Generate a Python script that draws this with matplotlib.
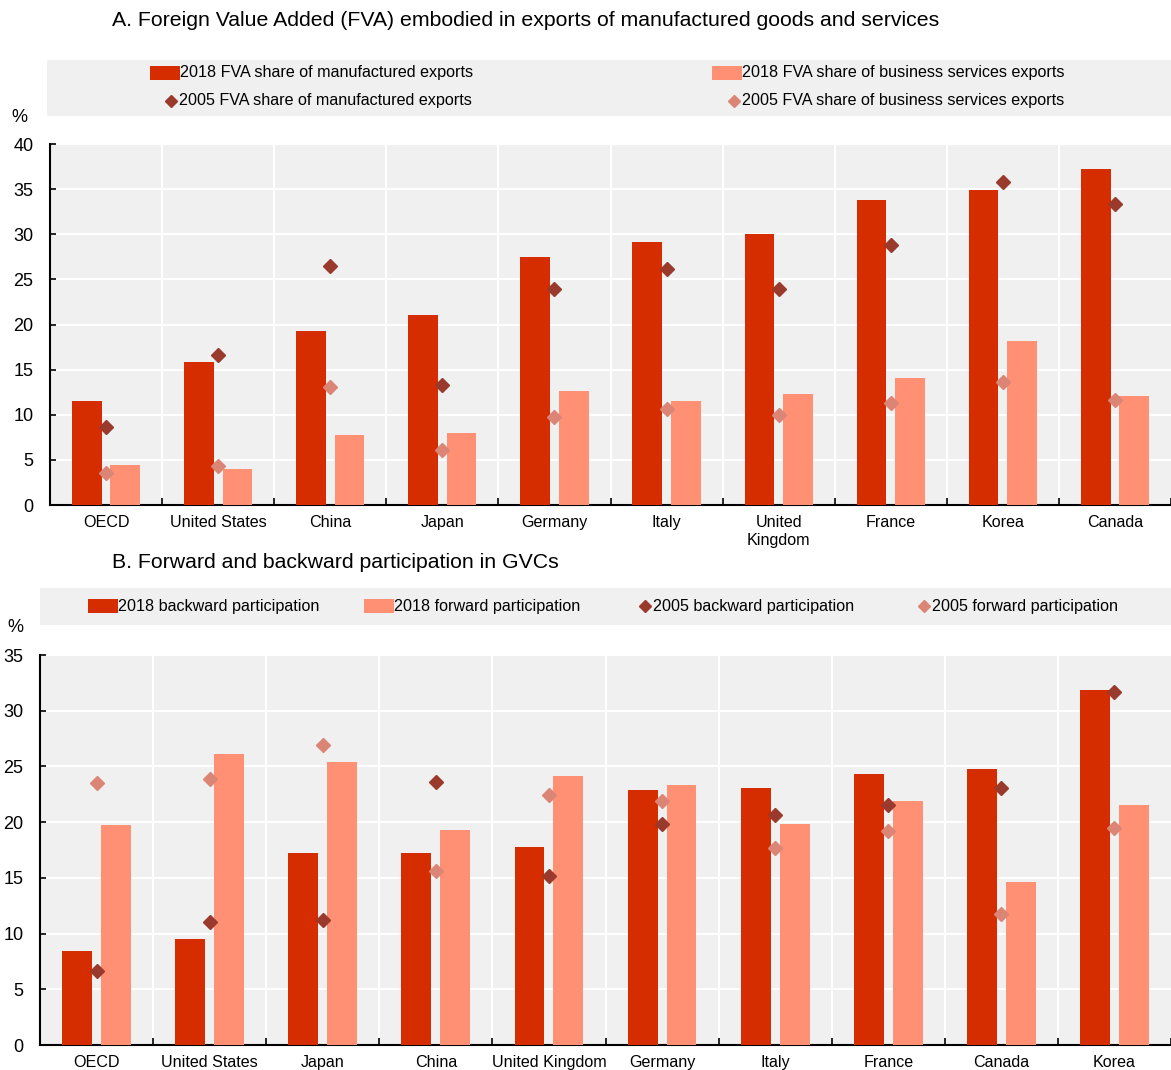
import numpy as np
import matplotlib
matplotlib.use("Agg")
import matplotlib.pyplot as plt
from matplotlib.patches import Rectangle
from matplotlib.lines import Line2D

plt.rcParams['font.family'] = ['Liberation Sans', 'DejaVu Sans']

# ---- data panel A
cats_a = ["OECD", "United States", "China", "Japan", "Germany", "Italy",
          "United\nKingdom", "France", "Korea", "Canada"]
manuf_2018 = [11.5, 15.8, 19.3, 21.0, 27.5, 29.1, 30.0, 33.8, 34.9, 37.2]
serv_2018 = [4.4, 4.0, 7.8, 8.0, 12.6, 11.5, 12.3, 14.1, 18.2, 12.1]
manuf_2005 = [8.6, 16.6, 26.5, 13.3, 23.9, 26.1, 23.9, 28.8, 35.8, 33.4]
serv_2005 = [3.5, 4.3, 13.1, 6.1, 9.8, 10.6, 10.0, 11.3, 13.6, 11.6]

# ---- data panel B
cats_b = ["OECD", "United States", "Japan", "China", "United Kingdom", "Germany",
          "Italy", "France", "Canada", "Korea"]
back_2018 = [8.4, 9.5, 17.2, 17.2, 17.8, 22.9, 23.1, 24.3, 24.8, 31.9]
fwd_2018 = [19.7, 26.1, 25.4, 19.3, 24.1, 23.3, 19.8, 21.9, 14.6, 21.5]
back_2005 = [6.6, 11.0, 11.2, 23.6, 15.2, 19.8, 20.6, 21.5, 23.1, 31.7]
fwd_2005 = [23.5, 23.9, 26.9, 15.6, 22.4, 21.9, 17.7, 19.2, 11.8, 19.5]

C_BAR1 = "#d62d00"
C_BAR2 = "#ff9073"
C_DIA1 = "#993a2d"
C_DIA2 = "#da8576"
BG = "#f0f0f0"
FS = 11.6

W, H = 1171, 1070
fig = plt.figure(figsize=(W / 100, H / 100), dpi=100)


def px(x, y):
    return x / W, 1 - y / H


def panel(rect, cats, b1, b2, d1, d2, ymax):
    ax = fig.add_axes(rect)
    x = np.arange(len(cats))
    ax.set_facecolor(BG)
    ax.bar(x - 0.172, b1, width=0.265, color=C_BAR1, zorder=3)
    ax.bar(x + 0.172, b2, width=0.265, color=C_BAR2, zorder=3)
    ax.plot(x, d1, linestyle="none", marker="D", markersize=7, color=C_DIA1, zorder=4)
    ax.plot(x, d2, linestyle="none", marker="D", markersize=7, color=C_DIA2, zorder=4)
    ax.set_xlim(-0.5, len(cats) - 0.5)
    ax.set_ylim(0, ymax)
    ax.set_yticks(np.arange(0, ymax + 1, 5))
    ax.set_xticks(x)
    ax.set_xticklabels(cats, fontsize=FS, linespacing=1.3)
    ax.set_xticks(np.arange(len(cats)) + 0.5, minor=True)
    ax.tick_params(axis="x", which="major", length=0, pad=7)
    ax.tick_params(axis="x", which="minor", direction="in", length=5, width=1.2)
    ax.tick_params(axis="y", direction="in", length=4, width=1.2, labelsize=13, pad=12)
    for v in np.arange(5, ymax + 1, 5):
        ax.axhline(v, color="white", lw=1.5, zorder=1)
    for b in np.arange(len(cats) - 1) + 0.5:
        ax.axvline(b, color="white", lw=1.5, zorder=1)
    for s in ["top", "right"]:
        ax.spines[s].set_visible(False)
    ax.spines["left"].set_linewidth(1.5)
    ax.spines["bottom"].set_linewidth(1.5)
    return ax


def leg_bar(x, y, color, label):
    fig.patches.append(Rectangle(px(x, y + 7), 30 / W, 14 / H, transform=fig.transFigure,
                                 facecolor=color, edgecolor="none"))
    fig.text(*px(x + 30, y), label, fontsize=FS, va="center", ha="left")


def leg_dia(x, y, color, label):
    fig.lines.append(Line2D([x / W], [1 - y / H], transform=fig.transFigure, marker="D",
                            markersize=6, color=color, linestyle="none"))
    fig.text(*px(x + 8, y), label, fontsize=FS, va="center", ha="left")


# ---- panel A
ax1 = panel([50 / W, 1 - 505 / H, 1121 / W, 361 / H], cats_a,
            manuf_2018, serv_2018, manuf_2005, serv_2005, 40)
fig.text(*px(112, 20), "A. Foreign Value Added (FVA) embodied in exports of manufactured goods and services",
         fontsize=15.3, va="center", ha="left")
fig.text(*px(19, 118), "%", fontsize=13, va="center", ha="center")

fig.patches.append(Rectangle(px(47, 116), 1124 / W, 56 / H, transform=fig.transFigure,
                             facecolor=BG, edgecolor="none"))
leg_bar(150, 73, C_BAR1, "2018 FVA share of manufactured exports")
leg_dia(171, 101, C_DIA1, "2005 FVA share of manufactured exports")
leg_bar(712, 73, C_BAR2, "2018 FVA share of business services exports")
leg_dia(734, 101, C_DIA2, "2005 FVA share of business services exports")

# ---- panel B
ax2 = panel([40 / W, 1 - 1045 / H, 1131 / W, 390 / H], cats_b,
            back_2018, fwd_2018, back_2005, fwd_2005, 35)
fig.text(*px(112, 563), "B. Forward and backward participation in GVCs",
         fontsize=15.3, va="center", ha="left")
fig.text(*px(15, 627), "%", fontsize=13, va="center", ha="center")

fig.patches.append(Rectangle(px(40, 625), 1131 / W, 37 / H, transform=fig.transFigure,
                             facecolor=BG, edgecolor="none"))
leg_bar(88, 606, C_BAR1, "2018 backward participation")
leg_bar(364, 606, C_BAR2, "2018 forward participation")
leg_dia(645, 606, C_DIA1, "2005 backward participation")
leg_dia(924, 606, C_DIA2, "2005 forward participation")

fig.savefig("out.png", dpi=100)
